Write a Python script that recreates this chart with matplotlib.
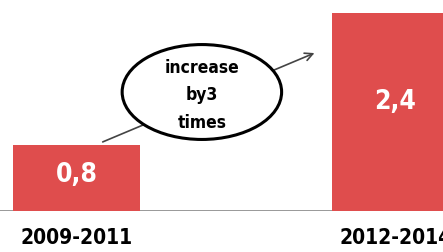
import matplotlib
matplotlib.use("Agg")
import matplotlib.pyplot as plt
from matplotlib.patches import Ellipse

periods = ["2009-2011", "2012-2014"]
values = [0.8, 2.4]
value_labels = ["0,8", "2,4"]
note = "increase\nby3\ntimes"

RED = "#df4d4d"
FONT = "DejaVu Sans"
COND = "condensed"

fig = plt.figure(figsize=(4.43, 2.52), dpi=100)
ax = fig.add_axes([0, 41 / 252, 1, 211 / 252])
x = list(range(len(periods)))
ax.bar(x, values, width=0.4, color=RED, zorder=2)
ax.set_xlim(-0.24, 1.149)
ax.set_ylim(0, 2.557)

for xi, v, lab in zip(x, values, value_labels):
    ax.text(xi, v * 0.55, lab, ha="center", va="center", color="white",
            fontsize=19, fontweight="bold", family=FONT, fontstretch=COND)

# arrow from small bar to big bar, hidden behind the ellipse
ax.annotate("", xy=(0.754, 1.927), xytext=(0.074, 0.824),
            arrowprops=dict(arrowstyle="->", color="#444444", lw=1.2,
                            mutation_scale=14), zorder=3)
ax.add_patch(Ellipse((0.393, 1.442), 0.50, 1.15, facecolor="white",
                     edgecolor="black", lw=2.2, zorder=4))
ax.text(0.393, 1.40, note, ha="center", va="center", fontsize=12.5,
        fontweight="bold", family=FONT, fontstretch=COND, linespacing=1.65,
        zorder=5)

ax.axhline(0, color="#888888", lw=1.2, zorder=1)
ax.set_xticks(x)
ax.set_xticklabels(periods, fontsize=15, family=FONT, fontstretch=COND,
                   fontweight="semibold")
ax.tick_params(axis="x", length=0, pad=12)
ax.set_yticks([])
for s in ax.spines.values():
    s.set_visible(False)

fig.savefig("out.png", dpi=100)
